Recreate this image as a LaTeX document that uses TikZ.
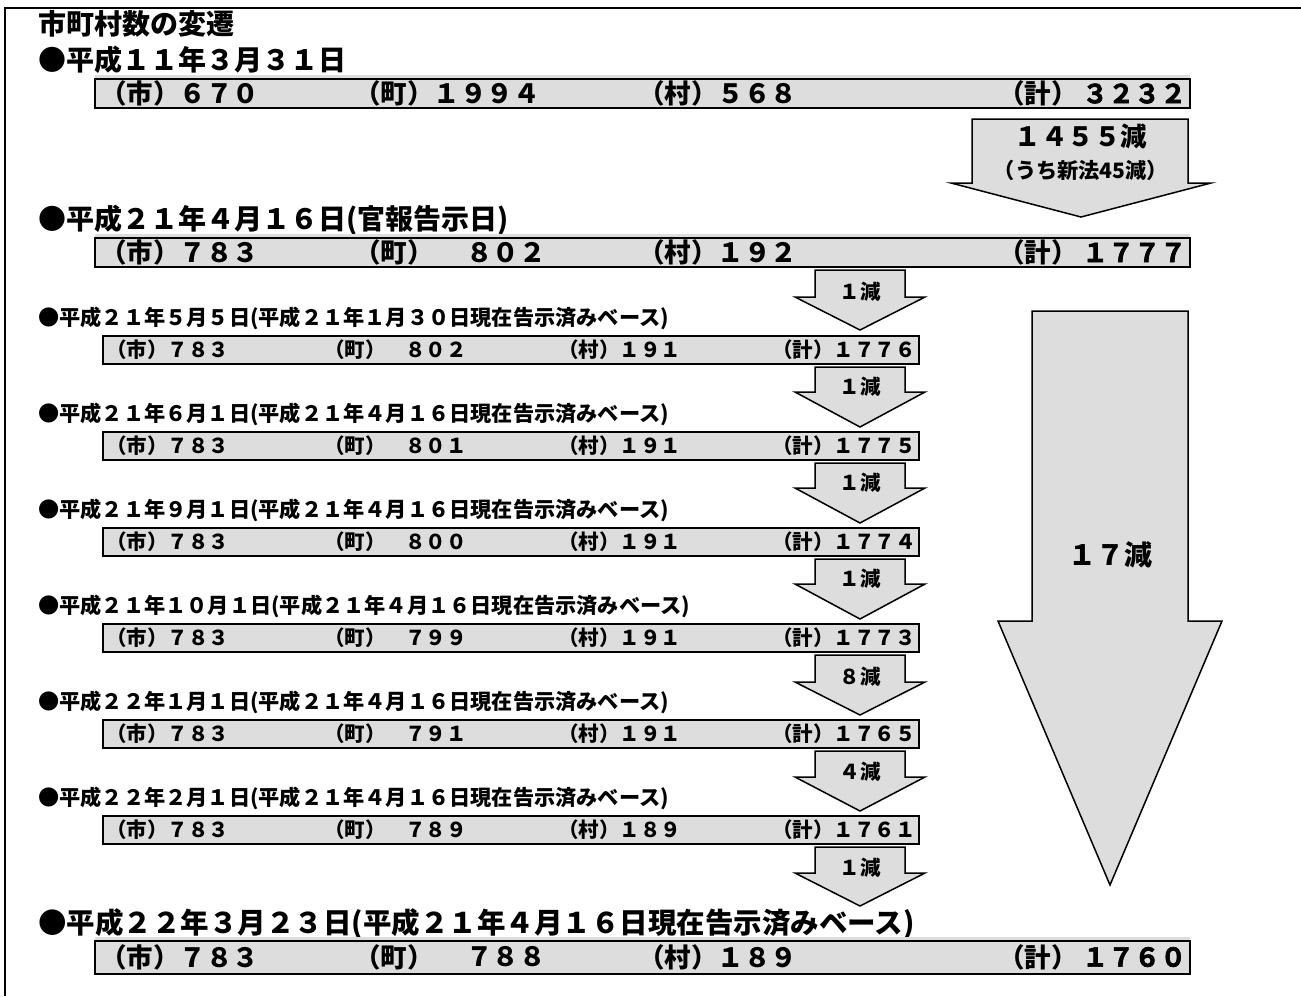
\documentclass[tikz,border=0pt]{standalone}
\usepackage{fontspec}
\setmainfont{Noto Sans CJK JP}
\newfontfamily\heavyfont{Noto Sans CJK JP Bold}[FakeBold=2.5]
\definecolor{barfill}{RGB}{221,221,221}
\newcommand\fHd{\bfseries\fontsize{28}{28}\selectfont}
\newcommand\fBd{\bfseries\fontsize{28.5}{28.5}\selectfont}
\newcommand\fBig{\bfseries\fontsize{26.5}{26.5}\selectfont}
\newcommand\fLab{\bfseries\fontsize{21.2}{21.2}\selectfont}
\newcommand\fSm{\bfseries\fontsize{20.5}{20.5}\selectfont}
\newcommand\fHv{\heavyfont\fontsize{26}{26}\selectfont}
\tikzset{
  txt/.style={anchor=west, inner sep=0pt},
  bigbar/.style={draw=black, line width=2.5pt, fill=barfill},
  smbar/.style={draw=black, line width=2pt, fill=barfill},
  arrowshape/.style={draw=black, line width=1.5pt, fill=barfill, line join=miter},
}
\newcommand\smarrow[5]{%
  \draw[arrowshape] (815,#1) -- (905,#1) -- (905,#2) -- (925,#2) -- (860,#3) -- (795,#2) -- (815,#2) -- cycle;
  \node[font=\fSm, inner sep=0pt] (#5) at (860,{#2-5}) {#4};
}
\begin{document}
\begin{tikzpicture}[x=1pt,y=-1pt]
\useasboundingbox (0,0) rectangle (1301,996);
\draw[line width=2pt] (5,996) -- (5,8) -- (1301,8);

% title
\node[txt, font=\fHd] (title) at (38,24) {市町村数の変遷};
\node[txt, font=\fHd] (d1) at (38,60) {●平成１１年３月３１日};

% bar 1
\fill[barfill] (95,75) rectangle (1190,108);
\draw[bigbar] (95,79) rectangle (1190,108);
\node[txt, font=\fBig] (b1a) at (100,93.5) {（市）６７０};
\node[txt, font=\fBig] (b1b) at (354,93.5) {（町）１９９４};
\node[txt, font=\fBig] (b1c) at (638,93.5) {（村）５６８};
\node[txt, font=\fBig] (b1d) at (998,93.5) {（計）};
\node[txt, font=\fHv] (b1e) at (1082,93.5) {３２３２};

% arrow 1455
\draw[arrowshape] (972,119) -- (1188,119) -- (1188,183) -- (1211,183) -- (1081,217) -- (951,183) -- (972,183) -- cycle;
\node[font=\fBig, inner sep=0pt] (a1t) at (1081,136) {１４５５減};
\node[font=\fLab, inner sep=0pt] (a1s) at (1081,170) {（うち新法45減）};

% date 2
\node[txt, font=\fHd] (d2) at (38,220) {●平成２１年４月１６日(官報告示日)};
\fill[barfill] (95,234) rectangle (1190,267);
\draw[bigbar] (95,238) rectangle (1190,267);
\node[txt, font=\fBig] (b2a) at (100,252.5) {（市）７８３};
\node[txt, font=\fBig] (b2b) at (354,252.5) {（町）};
\node[txt, font=\fBig] (b2b2) at (466,252.5) {８０２};
\node[txt, font=\fBig] (b2c) at (638,252.5) {（村）１９２};
\node[txt, font=\fBig] (b2d) at (998,252.5) {（計）};
\node[txt, font=\fHv] (b2e) at (1082,252.5) {１７７７};

% big arrow 17
\draw[arrowshape] (1032,311) -- (1188,311) -- (1188,621) -- (1222,621) -- (1110,885) -- (998,621) -- (1032,621) -- cycle;
\node[font=\fHd, inner sep=0pt] (a17) at (1110,555) {１７減};

% small rows
\foreach \k/\lab/\ch/\mu/\kei in {
 1/{●平成２１年５月５日(平成２１年１月３０日現在告示済みベース)}/８０２/１９１/１７７６,
 2/{●平成２１年６月１日(平成２１年４月１６日現在告示済みベース)}/８０１/１９１/１７７５,
 3/{●平成２１年９月１日(平成２１年４月１６日現在告示済みベース)}/８００/１９１/１７７４,
 4/{●平成２１年１０月１日(平成２１年４月１６日現在告示済みベース)}/７９９/１９１/１７７３,
 5/{●平成２２年１月１日(平成２１年４月１６日現在告示済みベース)}/７９１/１９１/１７６５,
 6/{●平成２２年２月１日(平成２１年４月１６日現在告示済みベース)}/７８９/１８９/１７６１}{
  \pgfmathsetmacro\yt{336+96*(\k-1)}
  \pgfmathsetmacro\yc{\yt+14}
  \node[txt, font=\fLab] (lab\k) at (38,{\yt-18}) {\lab};
  \draw[smbar] (103,\yt) rectangle (919,{\yt+28});
  \node[txt, font=\fSm] (r\k a) at (106,\yc) {（市）７８３};
  \node[txt, font=\fSm] (r\k b) at (324,\yc) {（町）};
  \node[txt, font=\fSm] (r\k b2) at (405,\yc) {\ch};
  \node[txt, font=\fSm] (r\k c) at (558,\yc) {（村）\mu};
  \node[txt, font=\fSm] (r\k d) at (772,\yc) {（計）\kei};
}

% small arrows
\smarrow{270}{297}{330}{１減}{s0}
\smarrow{367}{392}{427}{１減}{s1}
\smarrow{463}{488}{523}{１減}{s2}
\smarrow{559}{584}{619}{１減}{s3}
\smarrow{655}{682}{715}{８減}{s4}
\smarrow{751}{777}{811}{４減}{s5}
\smarrow{847}{873}{906}{１減}{s6}

% bottom
\node[txt, font=\fBd] (d3) at (38,924) {●平成２２年３月２３日(平成２１年４月１６日現在告示済みベース)};
\fill[barfill] (95,937) rectangle (1190,974);
\draw[bigbar] (95,941) rectangle (1190,974);
\node[txt, font=\fBig] (b3a) at (100,957) {（市）７８３};
\node[txt, font=\fBig] (b3b) at (354,957) {（町）};
\node[txt, font=\fBig] (b3b2) at (466,957) {７８８};
\node[txt, font=\fBig] (b3c) at (638,957) {（村）１８９};
\node[txt, font=\fBig] (b3d) at (998,957) {（計）};
\node[txt, font=\fHv] (b3e) at (1082,957) {１７６０};
\end{tikzpicture}
\end{document}
